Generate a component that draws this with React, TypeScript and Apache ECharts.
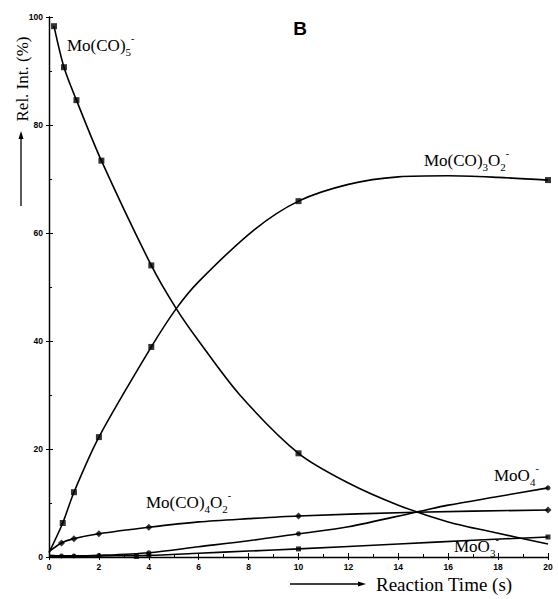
import React, { useEffect, useRef } from "react";
import * as echarts from "echarts";

// Reaction time (s) / relative intensity (%)
const moCO5Curve: number[][] = [[0.2, 98.3], [0.6, 90.7], [1.1, 84.6], [2.1, 73.4], [4.1, 54], [5.1, 46], [6, 40], [7.65, 30], [10, 19.2], [12, 13.7], [14, 9.6], [16, 6.5], [18, 4.4], [20, 2.4]];
const moCO5Marks: number[][] = [[0.2, 98.3], [0.6, 90.7], [1.1, 84.6], [2.1, 73.4], [4.1, 54], [10, 19.2]];

const moCO3O2Curve: number[][] = [[0, 0.8], [0.55, 6.3], [1, 12], [2, 22.2], [4.1, 38.9], [5.1, 46], [6, 51], [8.2, 60.5], [10, 65.9], [12, 69], [14, 70.4], [16, 70.6], [18, 70.3], [20, 69.8]];
const moCO3O2Marks: number[][] = [[0.55, 6.3], [1, 12], [2, 22.2], [4.1, 38.9], [10, 65.9], [20, 69.8]];

const moCO4O2Curve: number[][] = [[0, 1], [0.5, 2.6], [1, 3.4], [2, 4.3], [4, 5.5], [6, 6.5], [8, 7.1], [10, 7.6], [14.7, 8.3], [20, 8.7]];
const moCO4O2Marks: number[][] = [[0.5, 2.6], [1, 3.4], [2, 4.3], [4, 5.5], [10, 7.6], [20, 8.7]];

const moO4Curve: number[][] = [[0, 0.3], [0.5, 0.2], [1, 0.2], [2, 0.3], [4, 0.8], [6, 1.9], [8, 3], [10, 4.3], [12, 5.6], [14.7, 8.3], [16, 9.6], [18, 11.2], [20, 12.8]];
const moO4Marks: number[][] = [[0.5, 0.2], [1, 0.2], [2, 0.3], [4, 0.8], [10, 4.3], [20, 12.8]];

const moO3Curve: number[][] = [[0, 0.1], [2, 0.2], [4, 0.3], [6, 0.7], [8, 1.1], [10, 1.5], [14, 2.4], [17, 3.1], [20, 3.7]];
const moO3Marks: number[][] = [[3.5, 0.1], [4, 0.3], [10, 1.5], [20, 3.7]];

const xTicks = { min: 0, max: 20, interval: 2 };
const yTicks = { min: 0, max: 100, interval: 20 };

const serif = "'Liberation Serif', 'Times New Roman', serif";

function curve(data: number[][]) {
  return {
    type: "line",
    data,
    smooth: 0.3,
    showSymbol: false,
    symbol: "none",
    lineStyle: { color: "#000", width: 1.6 },
    silent: true,
  };
}

function marks(data: number[][], symbol: string, size: number) {
  return {
    type: "scatter",
    data,
    symbol,
    symbolSize: size,
    itemStyle: { color: "#000" },
    silent: true,
  };
}

// x, cy: left edge and vertical centre of the main text
function label(x: number, cy: number, parts: [string, string][]) {
  const text = parts.map(([k, t]) => `{${k}|${t}}`).join("");
  return {
    type: "text",
    x,
    y: cy - 12,
    style: {
      text,
      rich: {
        m: { fontFamily: serif, fontSize: 17, lineHeight: 24, verticalAlign: "middle", fill: "#000" },
        sub: { fontFamily: serif, fontSize: 11, lineHeight: 12, verticalAlign: "bottom", fill: "#000" },
        sup: { fontFamily: serif, fontSize: 10, lineHeight: 12, verticalAlign: "top", fill: "#000" },
      },
    },
  };
}

export default function App() {
  const ref = useRef<HTMLDivElement>(null);
  useEffect(() => {
    const chart = echarts.init(ref.current!, null, { renderer: "svg" });
    const axisLabel = { fontFamily: "'Liberation Sans', Arial, sans-serif", fontWeight: "bold", fontSize: 8.5, color: "#000" };
    chart.setOption({
      animation: false,
      backgroundColor: "#fff",
      grid: { left: 49, right: 10, top: 17, bottom: 42 },
      xAxis: [
        {
          type: "value", ...xTicks,
          axisLine: { lineStyle: { color: "#000", width: 1.3 } },
          axisTick: { inside: true, length: 4, lineStyle: { color: "#000" } },
          minorTick: { show: true, splitNumber: 2, length: 3, lineStyle: { color: "#000" } },
          splitLine: { show: false },
          axisLabel: { ...axisLabel, margin: 5 },
        },
        {
          type: "value", ...xTicks, position: "top",
          axisLine: { lineStyle: { color: "#000", width: 1.2 } },
          axisTick: { inside: true, length: 3, lineStyle: { color: "#000" } },
          splitLine: { show: false },
          axisLabel: { show: false },
        },
      ],
      yAxis: [
        {
          type: "value", ...yTicks,
          axisLine: { show: true, lineStyle: { color: "#000", width: 1.3 } },
          axisTick: { show: true, inside: true, length: 4, lineStyle: { color: "#000" } },
          minorTick: { show: true, splitNumber: 2, length: 3, lineStyle: { color: "#000" } },
          splitLine: { show: false },
          axisLabel: { ...axisLabel, margin: 6 },
        },
        {
          type: "value", ...yTicks, position: "right",
          axisLine: { show: true, lineStyle: { color: "#000", width: 1.2 } },
          axisTick: { show: true, inside: true, length: 3, lineStyle: { color: "#000" } },
          splitLine: { show: false },
          axisLabel: { show: false },
        },
      ],
      series: [
        curve(moCO5Curve), marks(moCO5Marks, "rect", 6),
        curve(moCO3O2Curve), marks(moCO3O2Marks, "rect", 6),
        curve(moCO4O2Curve), marks(moCO4O2Marks, "diamond", 7),
        curve(moO4Curve), marks(moO4Marks, "circle", 5),
        curve(moO3Curve), marks(moO3Marks, "rect", 5),
      ],
      graphic: [
        { type: "text", x: 300, y: 28, style: { text: "B", fontFamily: "'Liberation Sans', Arial, sans-serif", fontWeight: "bold", fontSize: 19, fill: "#000", align: "center", verticalAlign: "middle" } },
        label(67, 45, [["m", "Mo(CO)"], ["sub", "5"], ["sup", "-"]]),
        label(424, 160, [["m", "Mo(CO)"], ["sub", "3"], ["m", "O"], ["sub", "2"], ["sup", "-"]]),
        label(146, 502, [["m", "Mo(CO)"], ["sub", "4"], ["m", "O"], ["sub", "2"], ["sup", "-"]]),
        label(494, 475, [["m", "MoO"], ["sub", "4"], ["sup", "-"]]),
        label(454, 546, [["m", "MoO"], ["sub", "3"], ["sup", "-"]]),
        { type: "text", x: 22, y: 79, rotation: Math.PI / 2, style: { text: "Rel. Int. (%)", fontFamily: serif, fontSize: 17, fill: "#000", align: "center", verticalAlign: "middle" } },
        { type: "line", shape: { x1: 21, y1: 206, x2: 21, y2: 136 }, style: { stroke: "#000", lineWidth: 1.3 } },
        { type: "polygon", shape: { points: [[21, 131], [18.5, 139], [23.5, 139]] }, style: { fill: "#000" } },
        { type: "line", shape: { x1: 290, y1: 584, x2: 360, y2: 584 }, style: { stroke: "#000", lineWidth: 1.3 } },
        { type: "polygon", shape: { points: [[366, 584], [358, 581.5], [358, 586.5]] }, style: { fill: "#000" } },
        { type: "text", x: 376, y: 584, style: { text: "Reaction Time (s)", fontFamily: serif, fontSize: 19, fill: "#000", align: "left", verticalAlign: "middle" } },
      ],
    });
    return () => chart.dispose();
  }, []);
  return <div ref={ref} style={{ position: "fixed", left: 0, top: 0, width: 558, height: 599 }} />;
}
